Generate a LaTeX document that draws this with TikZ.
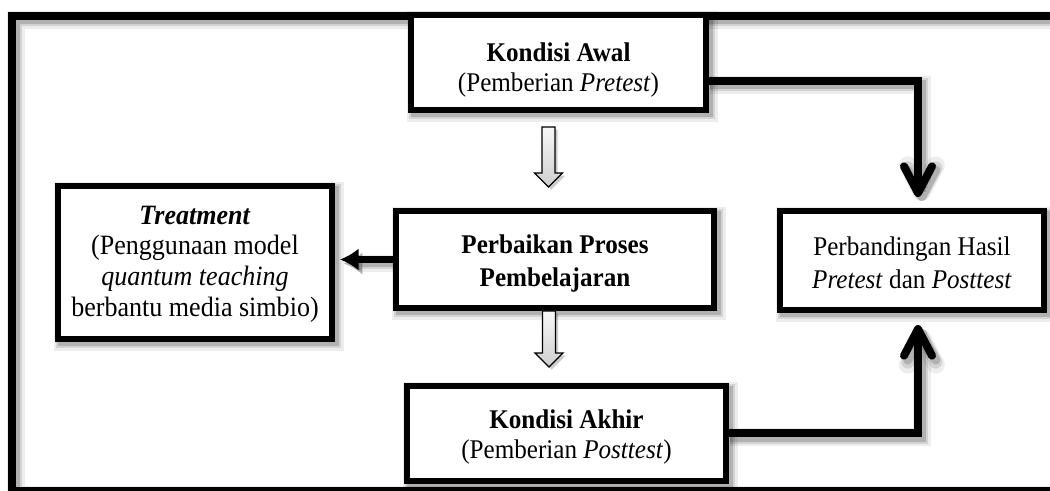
\documentclass[tikz,border=0pt]{standalone}
\usepackage{fontspec}
\setmainfont{Liberation Serif}[FakeStretch=0.93]
\usetikzlibrary{arrows.meta,calc}
\pgfdeclarelayer{bg}
\pgfsetlayers{bg,main}
\newcommand\blockarrow[2]{%
  \draw[hollow] ($(#1)+(-6.5,0)$) -- ($(#2)+(-6.5,-14)$) -- ($(#2)+(-14,-14)$) -- (#2)
    -- ($(#2)+(14,-14)$) -- ($(#2)+(6.5,-14)$) -- ($(#1)+(6.5,0)$) -- cycle;}
\tikzset{
  sshadow/.style={
    preaction={draw=black, opacity=0.07, line width=(#1+10)*0.75pt, transform canvas={shift={(2.8pt,-3pt)}}},
    preaction={draw=black, opacity=0.11, line width=(#1+5)*0.75pt, transform canvas={shift={(2.8pt,-3pt)}}},
    preaction={draw=black, opacity=0.16, line width=(#1+1)*0.75pt, transform canvas={shift={(2.8pt,-3pt)}}}},
  box/.style={draw=black, fill=white, line width=4.5pt, outer sep=0pt, inner sep=0pt, sshadow=6},
  txt/.style={align=center, inner sep=0pt, font=\fontsize{20.25}{22.5}\selectfont},
  txtw/.style={align=center, inner sep=0pt, font=\fontsize{20.25}{24.75}\selectfont},
  frame/.style={draw=black, line width=6pt, sshadow=8},
  conn/.style={draw=black, line width=6pt, sshadow=8,
    -{Straight Barb[length=20pt,width=21pt,round]}},
  sideconn/.style={draw=black, line width=5.25pt, sshadow=7,
    -{Latex[length=14pt,width=17pt]}},
  hollow/.style={draw=black, line width=1pt, top color=gray!6, bottom color=gray!38,
    preaction={fill=black, opacity=0.2, transform canvas={shift={(2pt,-2pt)}}}}
}
\begin{document}
\begin{tikzpicture}[x=0.75pt,y=-0.75pt]
\useasboundingbox (0,0) rectangle (1050,491);
\clip (0,0) rectangle (1050,491);

% boxes
\node[box, minimum width=295*0.75pt, minimum height=95*0.75pt] (awal) at (558.5,62.5) {};
\node[box, minimum width=274*0.75pt, minimum height=153*0.75pt] (treat) at (195,262.5) {};
\node[box, minimum width=318*0.75pt, minimum height=97*0.75pt] (perb) at (555,259.5) {};
\node[box, minimum width=319*0.75pt, minimum height=95*0.75pt] (akhir) at (566.5,433.5) {};
\node[box, minimum width=264*0.75pt, minimum height=99*0.75pt] (hasil) at (912,260.5) {};

% texts
\node[txt] (awalt) at ($(awal.center)+(0,7.5)$) {\textbf{Kondisi Awal}\\(Pemberian \textit{Pretest})};
\node[txt, font=\fontsize{21}{23}\selectfont] (treatt) at ($(treat.center)+(0,1.5)$) {\textbf{\textit{Treatment}}\\(Penggunaan model\\\textit{quantum teaching}\\berbantu media simbio)};
\node[txtw] (perbt) at ($(perb.center)+(0,4.5)$) {\textbf{Perbaikan Proses}\\\textbf{Pembelajaran}};
\node[txtw] (hasilt) at ($(hasil.center)+(0,2)$) {Perbandingan Hasil\\\textit{Pretest} dan \textit{Posttest}};
\node[txt] (akhirt) at ($(akhir.center)+(0,3.5)$) {\textbf{Kondisi Akhir}\\(Pemberian \textit{Posttest})};

% hollow block arrows
\coordinate (h1a) at ($(awal.south)+(-10,17)$);
\coordinate (h1b) at ($(perb.north)+(-6.5,-24)$);
\coordinate (h2a) at ($(perb.south)+(-6,3)$);
\coordinate (h2b) at ($(akhir.north)+(-17.5,-19)$);
\blockarrow{h1a}{h1b}
\blockarrow{h2a}{h2b}

\begin{pgfonlayer}{bg}
  \draw[frame] (1070,16) -- (12,16) -- (12,491) -- (1070,491);
  \coordinate (t1) at ($(hasil.north)+(6,-14)$);
  \coordinate (t2) at ($(hasil.south)+(6,15)$);
  \coordinate (t3) at ($(treat.east)+(8,0)$);
  \draw[conn] ($(awal.east)+(0,18.5)$) -| (t1);
  \draw[conn] (akhir.east) -| (t2);
  \draw[sideconn] (perb.west) -- (perb.west -| t3);
\end{pgfonlayer}
\end{tikzpicture}
\end{document}
